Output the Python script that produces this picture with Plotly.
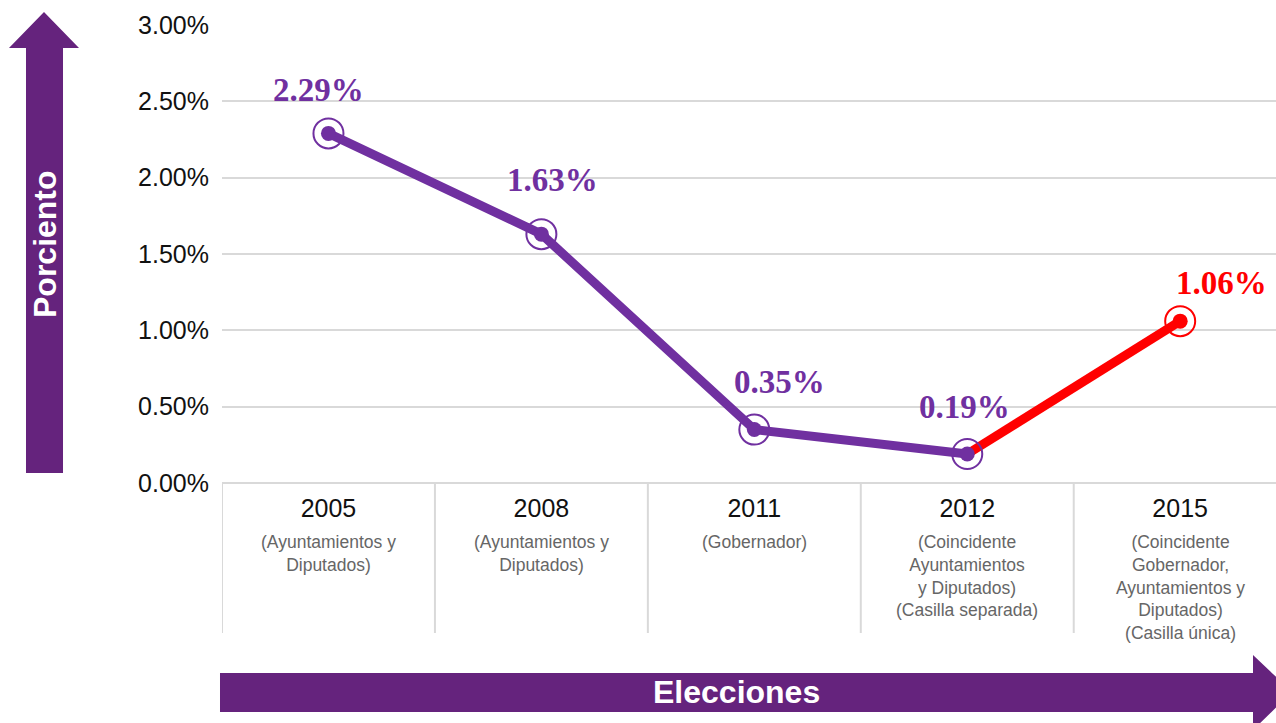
import plotly.graph_objects as go

# ---- data ----
years = ["2005", "2008", "2011", "2012", "2015"]
subtitles = [
    "(Ayuntamientos y<br>Diputados)",
    "(Ayuntamientos y<br>Diputados)",
    "(Gobernador)",
    "(Coincidente<br>Ayuntamientos<br>y Diputados)<br>(Casilla separada)",
    "(Coincidente<br>Gobernador,<br>Ayuntamientos y<br>Diputados)<br>(Casilla única)",
]
values = [2.29, 1.63, 0.35, 0.19, 1.06]
y_ticks = [0, 0.5, 1.0, 1.5, 2.0, 2.5, 3.0]
y_title = "Porciento"
x_title = "Elecciones"

PURPLE = "#7030A0"
ARROW = "#65237D"
RED = "#FF0000"
GRID = "#D9D9D9"
point_colors = [PURPLE, PURPLE, PURPLE, PURPLE, RED]

W, H = 1276, 723
L, R, T, B = 222, 1276, 25, 483  # plot area in pixels
pw, ph = R - L, B - T

def px(xp):
    return (xp - L) / pw

def py(yp):
    return (B - yp) / ph

xi = list(range(len(years)))

fig = go.Figure()
# purple segment (2005-2012)
fig.add_trace(go.Scatter(x=xi[:4], y=values[:4], mode="lines",
                         line=dict(color=PURPLE, width=9), hoverinfo="skip"))
# red segment (2012-2015)
fig.add_trace(go.Scatter(x=xi[3:], y=values[3:], mode="lines",
                         line=dict(color=RED, width=9), hoverinfo="skip"))
# outer rings
fig.add_trace(go.Scatter(x=xi, y=values, mode="markers",
                         marker=dict(symbol="circle-open", size=30,
                                     color=point_colors,
                                     line=dict(width=2, color=point_colors)),
                         hoverinfo="skip"))
# inner dots
fig.add_trace(go.Scatter(x=xi, y=values, mode="markers",
                         marker=dict(symbol="circle", size=15, color=point_colors),
                         hoverinfo="skip"))

# value labels
label_dx = [-10, 11, 25, -3, 41]
label_dy = [43, 54, 48, 47, 38]
for i, v in enumerate(values):
    fig.add_annotation(x=xi[i], y=v, xref="x", yref="y", text=f"<b>{v:.2f}%</b>",
                       showarrow=False, xshift=label_dx[i], yshift=label_dy[i],
                       font=dict(family="Liberation Serif, Times New Roman, serif",
                                 size=33, color=point_colors[i]),
                       xanchor="center", yanchor="middle")

# subtitles under the years
for i, s in enumerate(subtitles):
    fig.add_annotation(x=xi[i], y=0, xref="x", yref="paper", text=s,
                       showarrow=False, yshift=-47, xanchor="center", yanchor="top",
                       align="center",
                       font=dict(family="Liberation Sans, Arial, sans-serif",
                                 size=17.5, color="#666666"))

shapes = []
# vertical separators below axis
for b in [-0.5, 0.5, 1.5, 2.5, 3.5]:
    shapes.append(dict(type="line", xref="x", yref="paper", x0=b, x1=b,
                       y0=0, y1=py(633), line=dict(color=GRID, width=2),
                       layer="below"))

# left (vertical) arrow
lp = [(26, 473), (26, 48), (9, 48), (44, 12), (79, 48), (63, 48), (63, 473)]
path = "M " + " L ".join(f"{px(a):.5f},{py(b):.5f}" for a, b in lp) + " Z"
shapes.append(dict(type="path", xref="paper", yref="paper", path=path,
                   fillcolor=ARROW, line=dict(width=0), layer="below"))
# bottom (horizontal) arrow
bp = [(220, 673), (1253, 673), (1253, 655), (1292, 692), (1253, 730),
      (1253, 712), (220, 712)]
path = "M " + " L ".join(f"{px(a):.5f},{py(b):.5f}" for a, b in bp) + " Z"
shapes.append(dict(type="path", xref="paper", yref="paper", path=path,
                   fillcolor=ARROW, line=dict(width=0), layer="below"))

fig.add_annotation(x=px(45), y=py(244), xref="paper", yref="paper", text=f"<b>{y_title}</b>",
                   showarrow=False, textangle=-90, xanchor="center", yanchor="middle",
                   font=dict(family="Liberation Sans, Arial, sans-serif", size=32, color="white"))
fig.add_annotation(x=px(736), y=py(692), xref="paper", yref="paper", text=f"<b>{x_title}</b>",
                   showarrow=False, xanchor="center", yanchor="middle",
                   font=dict(family="Liberation Sans, Arial, sans-serif", size=32, color="white"))

fig.update_layout(
    width=W, height=H,
    margin=dict(l=L, r=W - R, t=T, b=H - B),
    paper_bgcolor="white", plot_bgcolor="white",
    showlegend=False,
    shapes=shapes,
    font=dict(family="Liberation Sans, Arial, sans-serif", color="#222222"),
    xaxis=dict(range=[-0.5, 4.45], tickmode="array", tickvals=xi, ticktext=years,
               showgrid=False, zeroline=False, showline=False, ticks="",
               ticklabelstandoff=8,
               tickfont=dict(size=25, color="#111111"), fixedrange=True),
    yaxis=dict(range=[0, 3.0], tickmode="array", tickvals=y_ticks,
               ticktext=[f"{t:.2f}%" for t in y_ticks],
               showgrid=True, gridcolor=GRID, gridwidth=2,
               zeroline=True, zerolinecolor=GRID, zerolinewidth=2,
               ticks="outside", ticklen=7, tickcolor="rgba(0,0,0,0)",
               tickfont=dict(size=25, color="#111111"), fixedrange=True),
)

fig.write_html("out.html", config={"displayModeBar": False},
               post_script="document.body.style.margin='0';document.body.style.overflow='hidden';")
